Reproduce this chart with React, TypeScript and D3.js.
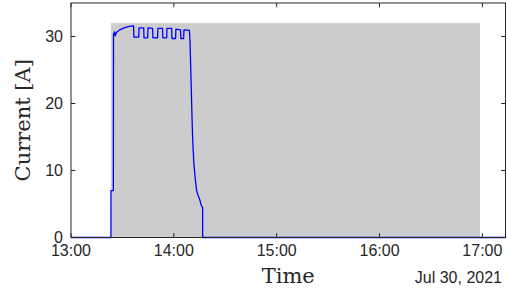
import React from "react";
import * as d3 from "d3";

const times: string[] = [
  "13:00:00", "13:23:18", "13:23:18", "13:24:42", "13:24:48", "13:25:24", "13:25:48", "13:26:30",
  "13:28:30", "13:31:00", "13:34:00", "13:36:30", "13:36:42", "13:39:30", "13:39:42", "13:42:24",
  "13:42:36", "13:44:42", "13:44:54", "13:47:36", "13:47:48", "13:50:30", "13:50:42", "13:53:24",
  "13:53:36", "13:55:48", "13:56:00", "13:58:42", "13:58:54", "14:01:00", "14:01:12", "14:03:54",
  "14:04:06", "14:05:42", "14:05:54", "14:09:06", "14:09:24", "14:10:00", "14:10:36", "14:11:00",
  "14:11:42", "14:12:36", "14:13:18", "14:14:06", "14:14:36", "14:15:12", "14:15:48", "14:16:24",
  "14:16:48", "14:16:48", "17:13:30",
];
const current: number[] = [
  0, 0, 7, 7, 30.3, 30.7, 30.1, 30.6,
  31.0, 31.3, 31.5, 31.6, 29.9, 29.9, 31.3, 31.3,
  29.8, 29.8, 31.3, 31.2, 29.8, 29.8, 31.2, 31.2,
  29.8, 29.8, 31.2, 31.2, 29.7, 29.7, 31.1, 31.0,
  29.7, 29.7, 31.0, 30.9, 29.5, 24, 18, 14.5,
  11, 8.5, 7, 6.3, 6.0, 5.6, 5.0, 4.6,
  4.5, 0, 0,
];
const shadeStart = "13:23:18";
const shadeEnd = "16:58:40";
const shadeTop = 32;
const xDomain: string[] = ["13:00:00", "17:13:30"];
const xTicks: string[] = ["13:00", "14:00", "15:00", "16:00", "17:00"];
const yTicks: number[] = [0, 10, 20, 30];
const yMax = 35;
const dateLabel = "Jul 30, 2021";
const xLabel = "Time";
const yLabel = "Current [A]";

const parse = (s: string) => {
  const p = s.split(":").map(Number);
  return new Date(2021, 6, 30, p[0], p[1], p[2] || 0);
};

export default function App() {
  const W = 507, H = 299;
  const L = 71, R = 505.5, T = 3, B = 237.5;
  const x = d3.scaleTime().domain(xDomain.map(parse)).range([L, R]);
  const y = d3.scaleLinear().domain([0, yMax]).range([B, T]);
  const data = times.map((t, i) => ({ t: parse(t), v: current[i] }));
  const line = d3.line<{ t: Date; v: number }>().x(d => x(d.t)).y(d => y(d.v));
  const tl = 4.3;
  const axisColor = "#262626";
  const sans = "'Liberation Sans', Arial, sans-serif";
  const serif = "'DejaVu Serif', serif";
  return (
    <svg width={W} height={H} style={{ position: "absolute", left: 0, top: 0, background: "#fff" }}>
      <rect x={x(parse(shadeStart))} y={y(shadeTop)} width={x(parse(shadeEnd)) - x(parse(shadeStart))} height={y(0) - y(shadeTop)} fill="#cccccc" />
      <path d={line(data) || ""} fill="none" stroke="#0000ff" strokeWidth={1.3} strokeLinejoin="round" />
      <rect x={L} y={T} width={R - L} height={B - T} fill="none" stroke={axisColor} strokeWidth={1} />
      {xTicks.map(t => {
        const xp = x(parse(t));
        return (
          <g key={t}>
            <line x1={xp} x2={xp} y1={B} y2={B - tl} stroke={axisColor} />
            <line x1={xp} x2={xp} y1={T} y2={T + tl} stroke={axisColor} />
            <text x={xp} y={255.5} textAnchor="middle" fontFamily={sans} fontSize={16} fill={axisColor}>{t}</text>
          </g>
        );
      })}
      {yTicks.map(v => {
        const yp = y(v);
        return (
          <g key={v}>
            <line x1={L} x2={L + tl} y1={yp} y2={yp} stroke={axisColor} />
            <line x1={R} x2={R - tl} y1={yp} y2={yp} stroke={axisColor} />
            <text x={63} y={yp} dy="0.36em" textAnchor="end" fontFamily={sans} fontSize={16} fill={axisColor}>{v}</text>
          </g>
        );
      })}
      <text x={(L + R) / 2} y={283} textAnchor="middle" fontFamily={serif} fontSize={21} fill={axisColor}>{xLabel}</text>
      <text x={502} y={283} textAnchor="end" fontFamily={sans} fontSize={16} fill={axisColor}>{dateLabel}</text>
      <text transform={`translate(30,${(T + B) / 2}) rotate(-90)`} textAnchor="middle" fontFamily={serif} fontSize={21} fill={axisColor}>{yLabel}</text>
    </svg>
  );
}
